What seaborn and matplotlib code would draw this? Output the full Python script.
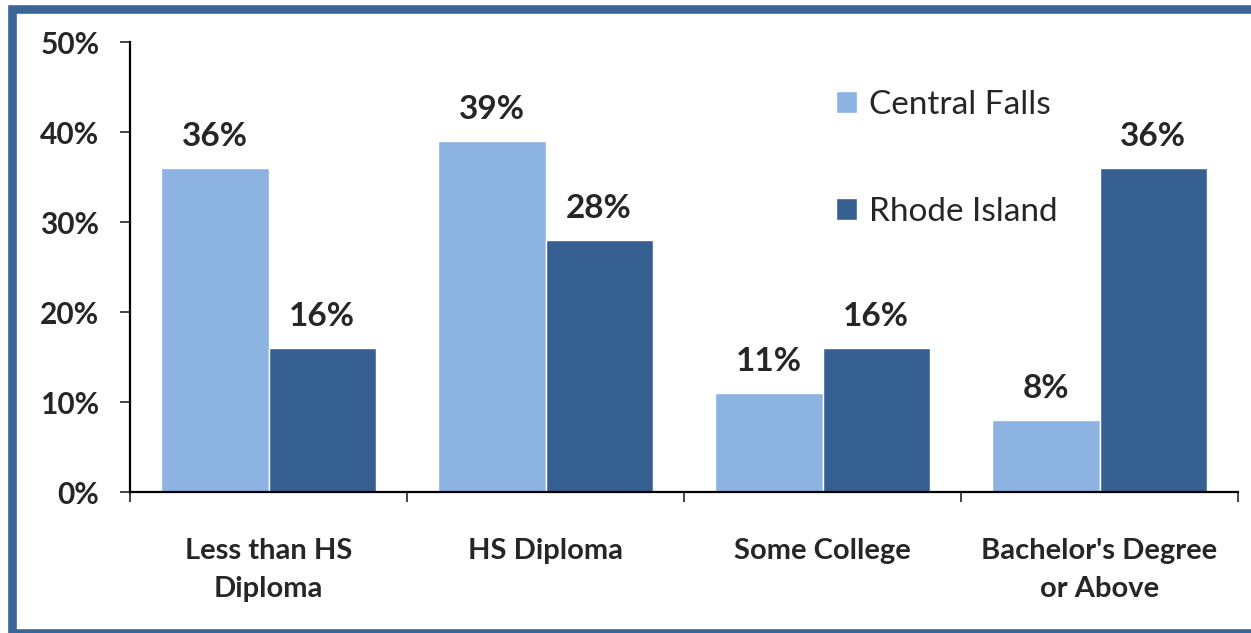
import pandas as pd
import matplotlib
matplotlib.use("Agg")
import matplotlib.pyplot as plt
import seaborn as sns
from matplotlib.patches import Rectangle
from matplotlib.ticker import FixedLocator, PercentFormatter

categories = ["Less than HS\nDiploma", "HS Diploma", "Some College", "Bachelor's Degree\nor Above"]
central_falls = [36, 39, 11, 8]
rhode_island = [16, 28, 16, 36]
series_names = ["Central Falls", "Rhode Island"]
colors = ["#8DB3E2", "#376092"]

df = pd.DataFrame({
    "category": categories * 2,
    "value": central_falls + rhode_island,
    "area": [series_names[0]] * 4 + [series_names[1]] * 4,
})

sns.set_style("white")
plt.rcParams["font.family"] = ["Lato", "DejaVu Sans"]

W, H = 1251, 633
fig = plt.figure(figsize=(W / 100, H / 100), dpi=100)
ax = fig.add_axes([130 / W, 1 - 492 / H, (1238 - 130) / W, (492 - 42) / H])

sns.barplot(data=df, x="category", y="value", hue="area", palette=colors,
            width=0.773, saturation=1, ax=ax, legend=True)

for c in ax.containers:
    ax.bar_label(c, labels=[f"{v:.0f}%" for v in c.datavalues], padding=12,
                 fontsize=24, fontweight="bold")

ax.set_xlim(-0.5, 3.5)
ax.set_ylim(0, 50)
ax.yaxis.set_major_locator(FixedLocator([0, 10, 20, 30, 40, 50]))
ax.yaxis.set_major_formatter(PercentFormatter(decimals=0))
ax.set_xlabel("")
ax.set_ylabel("")

for s in ["top", "right"]:
    ax.spines[s].set_visible(False)
for s in ["left", "bottom"]:
    ax.spines[s].set_color("black")
    ax.spines[s].set_linewidth(1.6)

ax.tick_params(axis="y", left=True, length=7, width=1.2, pad=15, labelsize=21.5)
for t in ax.get_yticklabels():
    t.set_fontweight("bold")
ax.xaxis.set_minor_locator(FixedLocator([-0.5, 0.5, 1.5, 2.5, 3.5]))
ax.tick_params(axis="x", which="major", length=0, pad=33, labelsize=21)
ax.tick_params(axis="x", which="minor", bottom=True, length=7, width=1.2, direction="out")
for t in ax.get_xticklabels():
    t.set_fontweight("bold")
    t.set_linespacing(1.6)

leg = ax.legend(loc="upper left", bbox_to_anchor=(836 / W, 1 - 90 / H),
                bbox_transform=fig.transFigure, frameon=False, fontsize=24,
                handlelength=0.63, handleheight=0.63, handletextpad=0.36,
                labelspacing=2.3, borderpad=0, borderaxespad=0)

fig.patches.append(Rectangle((12.5 / W, 0.0), 1.05, 1 - 8.5 / H,
                             transform=fig.transFigure, fill=False,
                             edgecolor="#3B6597", linewidth=6.2, zorder=0))

fig.savefig("out.png", dpi=100)
